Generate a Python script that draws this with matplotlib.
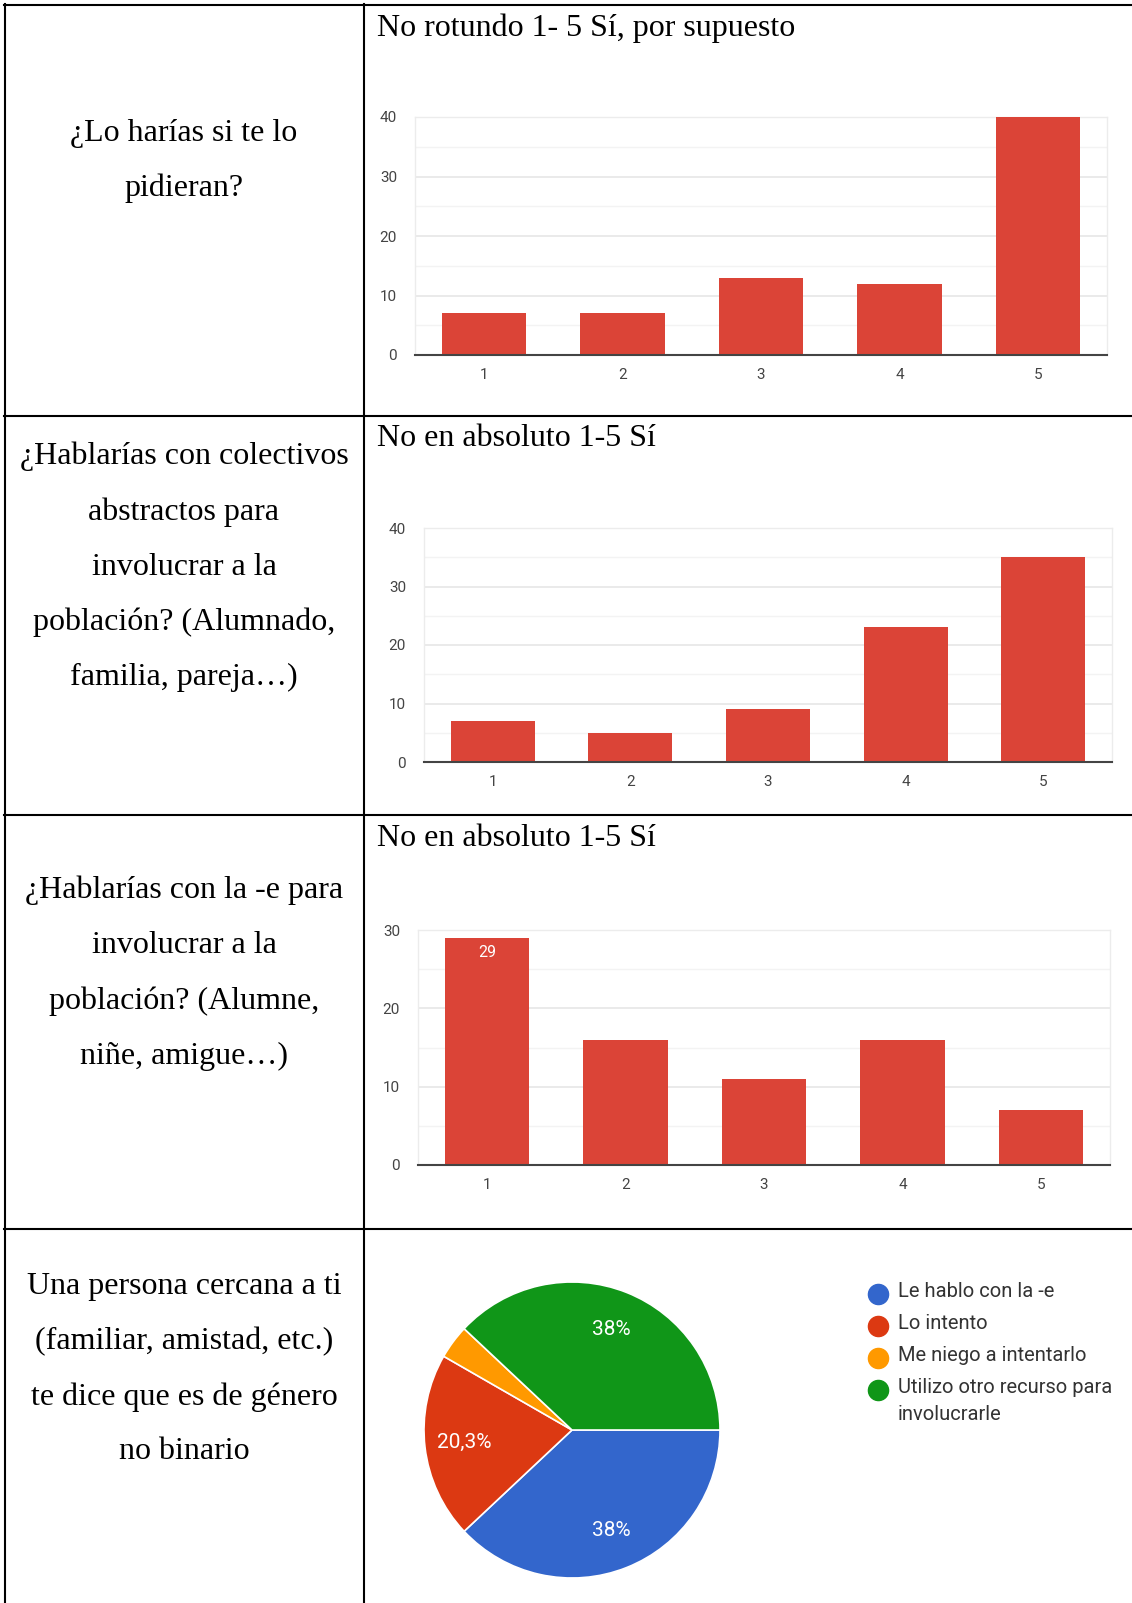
# Survey answers table: question on the left, Google Forms style chart on the right

import matplotlib
matplotlib.use('Agg')
import matplotlib.pyplot as plt
from matplotlib.lines import Line2D

# data
categories = ['1', '2', '3', '4', '5']
pidieran = [7, 7, 13, 12, 40]
colectivos = [7, 5, 9, 23, 35]
lengua_e = [29, 16, 11, 16, 7]
lengua_e_labels = ['29', '', '', '', '']

pie_labels = ['Le hablo con la -e', 'Lo intento', 'Me niego a intentarlo',
              'Utilizo otro recurso para\ninvolucrarle']
pie_values = [38, 20.3, 3.7, 38]
pie_pct_text = ['38%', '20,3%', '', '38%']
pie_colors = ['#3366CC', '#DC3912', '#FF9900', '#109618']

questions = [
    '¿Lo harías si te lo\npidieran?',
    '¿Hablarías con colectivos\nabstractos para\ninvolucrar a la\npoblación? (Alumnado,\nfamilia, pareja…)',
    '¿Hablarías con la -e para\ninvolucrar a la\npoblación? (Alumne,\nniñe, amigue…)',
    'Una persona cercana a ti\n(familiar, amistad, etc.)\nte dice que es de género\nno binario',
]
chart_titles = ['No rotundo 1- 5 Sí, por supuesto', 'No en absoluto 1-5 Sí',
                'No en absoluto 1-5 Sí']

W, H = 1132, 1603
fig = plt.figure(figsize=(W / 100, H / 100), dpi=100)
fig.patch.set_facecolor('white')


def box(x0, y0, x1, y1):
    return [x0 / W, 1 - y1 / H, (x1 - x0) / W, (y1 - y0) / H]


def fx(x):
    return x / W


def fy(y):
    return 1 - y / H


# table grid
grid_kw = dict(color='black', lw=1.5, transform=fig.transFigure)
fig.add_artist(Line2D([fx(5), fx(5)], [fy(4), 0], **grid_kw))
fig.add_artist(Line2D([fx(364), fx(364)], [fy(4), 0], **grid_kw))
for yy in [5, 416, 815, 1229]:
    fig.add_artist(Line2D([fx(4), 1], [fy(yy), fy(yy)], **grid_kw))

serif = 'Liberation Serif'

# left column questions
q_centers = [161, 567, 973, 1369]
for q, yc in zip(questions, q_centers):
    fig.text(fx(184), fy(yc), q, ha='center', va='center', family=serif,
             fontsize=23, linespacing=2.17, color='black')

# chart titles
for t, yy in zip(chart_titles, [28, 439, 838]):
    fig.text(fx(377), fy(yy), t, ha='left', va='center', family=serif,
             fontsize=23, color='black')


def bar_chart(rect, values, ymax):
    ax = fig.add_axes(rect)
    x = range(len(categories))
    bars = ax.bar(x, values, width=0.61, color='#DB4437', zorder=3)
    ax.set_xlim(-0.5, len(categories) - 0.5)
    ax.set_ylim(0, ymax)
    ax.set_xticks(list(x))
    ax.set_xticklabels(categories)
    ax.set_yticks(range(0, ymax + 1, 10))
    ax.set_yticks(range(5, ymax, 10), minor=True)
    ax.grid(axis='y', which='major', color='#e6e6e6', lw=1.2, zorder=0)
    ax.grid(axis='y', which='minor', color='#f3f3f3', lw=1.0, zorder=0)
    ax.tick_params(which='both', length=0, labelsize=11, colors='#444444')
    ax.tick_params(axis='x', pad=9.5)
    ax.tick_params(axis='y', pad=13)
    for lab in ax.get_xticklabels() + ax.get_yticklabels():
        lab.set_family('Roboto')
    for s in ['left', 'right', 'top']:
        ax.spines[s].set_color('#ececec')
        ax.spines[s].set_linewidth(1.0)
    ax.spines['bottom'].set_color('#444444')
    ax.spines['bottom'].set_linewidth(1.5)
    ax.spines['bottom'].set_zorder(4)
    return ax, bars


bar_chart(box(415, 117, 1107, 355), pidieran, 40)
bar_chart(box(424, 528, 1112, 762), colectivos, 40)
ax3, bars3 = bar_chart(box(418, 930, 1110, 1165), lengua_e, 30)
ax3.bar_label(bars3, labels=lengua_e_labels, padding=-16, color='white',
              fontsize=11.5, family='Roboto')

# pie chart
axp = fig.add_axes(box(424, 1282, 720, 1578))
labels_iter = iter(pie_pct_text)
wedges, _, autotexts = axp.pie(pie_values, colors=pie_colors, startangle=0,
                               counterclock=False,
                               autopct=lambda p: next(labels_iter),
                               pctdistance=0.73,
                               wedgeprops=dict(edgecolor='white', linewidth=1.2))
for t in autotexts:
    t.set_color('white')
    t.set_fontsize(15)
    t.set_family('Roboto')
axp.set_xlim(-1, 1)
axp.set_ylim(-1, 1)
axp.set_aspect('equal')
for w in wedges:
    w.set_clip_on(False)

# legend
leg_y = [1294, 1326, 1358, 1390]
for lab, col, yy in zip(pie_labels, pie_colors, leg_y):
    fig.add_artist(Line2D([fx(878)], [fy(yy)], marker='o', markersize=14.5,
                          color=col, transform=fig.transFigure))
    fig.text(fx(898), fy(yy - 12), lab, ha='left', va='top', family='Roboto',
             fontsize=14.5, color='#333333', linespacing=1.5)

fig.savefig('out.png', dpi=100, facecolor='white')
